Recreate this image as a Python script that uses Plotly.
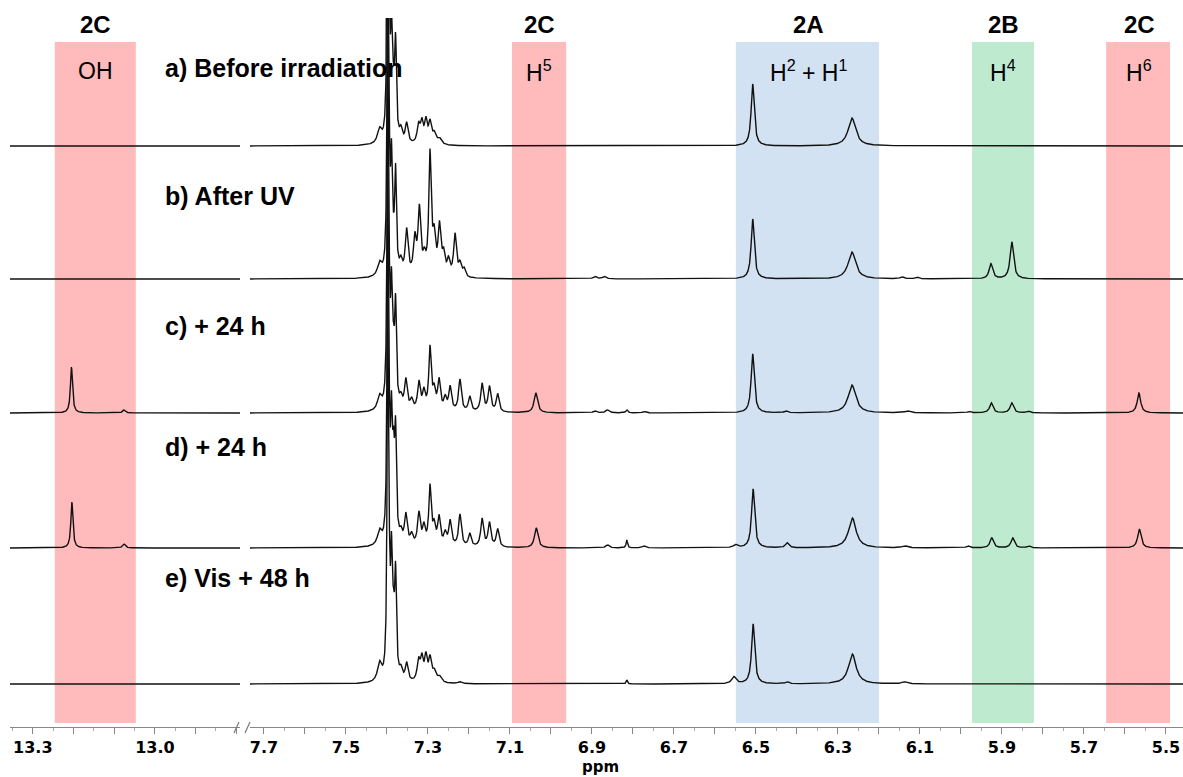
import numpy as np
import plotly.graph_objects as go

W, H = 1183, 777
PLOT_TOP, PLOT_BOTTOM = 18, 727          # pixel rows of the plot area
PLOT_H = PLOT_BOTTOM - PLOT_TOP

# ---------------- data ----------------
spectrum_labels = ["a) Before irradiation", "b) After UV", "c) + 24 h", "d) + 24 h", "e) Vis + 48 h"]

# Each spectrum: peak positions (ppm), apparent heights, half-widths (ppm)
a_ppm = [7.418, 7.398, 7.394, 7.389, 7.384, 7.379, 7.366, 7.352, 7.323, 7.315, 7.305, 7.295, 7.285, 7.272,
         6.508, 6.266]
a_height = [14, 400, 60, 100, 35, 92, 12, 20, 18, 20, 22, 20, 10, 6,
            62, 28]
a_hw = [0.006, 0.0018, 0.002, 0.0025, 0.003, 0.0025, 0.004, 0.004, 0.004, 0.004, 0.004, 0.004, 0.005, 0.006,
        0.0045, 0.011]

b_ppm = [7.418, 7.398, 7.394, 7.389, 7.384, 7.379, 7.366, 7.352, 7.332, 7.321, 7.309, 7.295, 7.285, 7.272,
         7.262, 7.250, 7.234, 7.222, 7.212,
         6.893, 6.870, 6.508, 6.266, 6.144, 6.107, 5.927, 5.876]
b_height = [13, 400, 60, 105, 15, 98, 12, 45, 35, 65, 15, 120, 35, 48,
            20, 15, 42, 12, 8,
            2.5, 2.5, 60, 27, 2, 2, 15, 37]
b_hw = [0.006, 0.0018, 0.002, 0.0025, 0.003, 0.0025, 0.004, 0.004, 0.004, 0.004, 0.004, 0.0035, 0.004, 0.004,
        0.004, 0.004, 0.004, 0.004, 0.004,
        0.005, 0.005, 0.0045, 0.011, 0.005, 0.005, 0.005, 0.005]

c_ppm = [13.205, 13.076,
         7.418, 7.398, 7.394, 7.389, 7.384, 7.379, 7.366, 7.354, 7.340, 7.322, 7.310, 7.295, 7.285, 7.273,
         7.258, 7.246, 7.222, 7.198, 7.168, 7.150, 7.130,
         7.037, 6.893, 6.862, 6.815, 6.772, 6.508, 6.427, 6.266, 6.130, 5.980, 5.926, 5.876, 5.836, 5.566]
c_height = [46, 3,
            14, 400, 60, 105, 40, 96, 10, 30, 10, 28, 18, 62, 18, 30,
            12, 24, 32, 15, 28, 25, 18,
            20, 2, 3, 3, 1.5, 59, 2, 28, 2, 1.5, 10, 10, 2, 20]
c_hw = [0.003, 0.004,
        0.006, 0.0018, 0.002, 0.0025, 0.003, 0.0025, 0.004, 0.004, 0.004, 0.004, 0.004, 0.0035, 0.004, 0.004,
        0.004, 0.004, 0.004, 0.004, 0.004, 0.004, 0.004,
        0.005, 0.005, 0.005, 0.003, 0.005, 0.0045, 0.005, 0.011, 0.008, 0.005, 0.005, 0.005, 0.005, 0.005]

d_ppm = [13.204, 13.076,
         7.418, 7.398, 7.394, 7.389, 7.384, 7.379, 7.366, 7.354, 7.340, 7.322, 7.310, 7.295, 7.285, 7.273,
         7.258, 7.246, 7.222, 7.198, 7.168, 7.150, 7.130,
         7.036, 6.862, 6.815, 6.773, 6.550, 6.507, 6.424, 6.265, 6.137, 5.983, 5.925, 5.874, 5.835, 5.565]
d_height = [46, 4,
            14, 400, 60, 108, 70, 100, 10, 30, 10, 32, 18, 58, 18, 28,
            12, 25, 32, 13, 28, 24, 18,
            20, 3, 8, 2, 3, 59, 5, 30, 2, 2, 10, 10, 2, 19]
d_hw = [0.003, 0.004,
        0.006, 0.0018, 0.002, 0.0025, 0.003, 0.0025, 0.004, 0.004, 0.004, 0.004, 0.004, 0.0035, 0.004, 0.004,
        0.004, 0.004, 0.004, 0.004, 0.004, 0.004, 0.004,
        0.005, 0.005, 0.002, 0.005, 0.006, 0.0045, 0.005, 0.011, 0.008, 0.005, 0.005, 0.005, 0.005, 0.005]

e_ppm = [7.418, 7.398, 7.394, 7.389, 7.384, 7.379, 7.366, 7.352, 7.323, 7.315, 7.305, 7.295, 7.285, 7.272,
         7.222, 6.815, 6.554, 6.507, 6.424, 6.265, 6.137]
e_height = [18, 400, 60, 110, 45, 98, 10, 18, 20, 22, 24, 22, 10, 6,
            2, 4, 7, 60, 2, 30, 2]
e_hw = [0.006, 0.0018, 0.002, 0.0025, 0.003, 0.0025, 0.004, 0.004, 0.004, 0.004, 0.004, 0.004, 0.005, 0.006,
        0.005, 0.002, 0.006, 0.0045, 0.005, 0.011, 0.008]

spectra = [(a_ppm, a_height, a_hw), (b_ppm, b_height, b_hw), (c_ppm, c_height, c_hw),
           (d_ppm, d_height, d_hw), (e_ppm, e_height, e_hw)]

# highlighted regions
band_axis = ["x", "x2", "x2", "x2", "x2"]
band_from = [13.246, 7.095, 6.549, 5.973, 5.646]
band_to = [13.047, 6.963, 6.200, 5.822, 5.490]
band_group = ["2C", "2C", "2A", "2B", "2C"]
band_proton = ["OH", "H<sup>5</sup>", "H<sup>2</sup> + H<sup>1</sup>", "H<sup>4</sup>", "H<sup>6</sup>"]
band_colour = ["#FFBBBB", "#FFBBBB", "#D2E2F2", "#BEEBD0", "#FFBBBB"]

left_ticks = [13.3, 13.2, 13.1, 13.0, 12.9, 12.8]
left_ticktext = ["13.3", "", "", "13.0", "", ""]
right_ticks = [7.7, 7.6, 7.5, 7.4, 7.3, 7.2, 7.1, 7.0, 6.9, 6.8, 6.7, 6.6, 6.5, 6.4, 6.3, 6.2, 6.1, 6.0,
               5.9, 5.8, 5.7, 5.6, 5.5]
right_ticktext = ["7.7", "", "7.5", "", "7.3", "", "7.1", "", "6.9", "", "6.7", "", "6.5", "", "6.3", "",
                  "6.1", "", "5.9", "", "5.7", "", "5.5"]

# ---------------- layout helpers ----------------
LEFT_RANGE = [13.356, 12.791]
RIGHT_RANGE = [7.734, 5.4585]
LEFT_DOMAIN = [10 / W, 240 / W]
RIGHT_DOMAIN = [250 / W, 1.0]


def px(xp):
    return xp / W


def py(yp):
    return (PLOT_BOTTOM - yp) / PLOT_H


def lorentz_sum(x, centres, heights, hws):
    y = np.zeros_like(x)
    for c, h, w in zip(centres, heights, hws):
        y += h / (1.0 + ((x - c) / w) ** 2)
    return y


x_left = np.linspace(LEFT_RANGE[0], LEFT_RANGE[1], 2000)
x_right = np.linspace(RIGHT_RANGE[0], RIGHT_RANGE[1], 7000)

baseline_px = [146, 279, 413, 548, 684]

fig = go.Figure()

for i, (pp, hh, ww) in enumerate(spectra):
    off = PLOT_BOTTOM - baseline_px[i]
    fig.add_trace(go.Scatter(x=x_left, y=off + lorentz_sum(x_left, pp, hh, ww), mode="lines",
                             line=dict(color="#111111", width=1.4), xaxis="x", yaxis="y",
                             showlegend=False, hoverinfo="skip"))
    fig.add_trace(go.Scatter(x=x_right, y=off + lorentz_sum(x_right, pp, hh, ww), mode="lines",
                             line=dict(color="#111111", width=1.4), xaxis="x2", yaxis="y",
                             showlegend=False, hoverinfo="skip"))

shapes = []
for ax, f, t, col in zip(band_axis, band_from, band_to, band_colour):
    shapes.append(dict(type="rect", xref=ax, yref="paper", x0=f, x1=t, y0=py(723), y1=py(42),
                       fillcolor=col, line=dict(width=0), layer="below"))
# axis break marks
for xb in (236, 247):
    shapes.append(dict(type="line", xref="paper", yref="paper", x0=px(xb - 2), y0=py(733),
                       x1=px(xb + 3), y1=py(722), line=dict(color="#777777", width=1.2)))

annotations = []
band_centre_px = [95, 539, 808, 1003, 1139]
for cx, g, p in zip(band_centre_px, band_group, band_proton):
    annotations.append(dict(x=px(cx), y=py(25), xref="paper", yref="paper", text="<b>" + g + "</b>",
                            showarrow=False, xanchor="center", yanchor="middle",
                            font=dict(family="Liberation Sans", size=24, color="black")))
    annotations.append(dict(x=px(cx), y=py(71), xref="paper", yref="paper", text=p,
                            showarrow=False, xanchor="center", yanchor="middle",
                            font=dict(family="Liberation Sans", size=23, color="black")))

label_y_px = [68, 196, 326, 447, 578]
for lab, ly in zip(spectrum_labels, label_y_px):
    annotations.append(dict(x=px(163), y=py(ly), xref="paper", yref="paper", text="<b>" + lab + "</b>",
                            showarrow=False, xanchor="left", yanchor="middle",
                            font=dict(family="Liberation Sans", size=25, color="black")))

annotations.append(dict(x=px(600), y=py(767), xref="paper", yref="paper", text="<b>ppm</b>",
                        showarrow=False, xanchor="center", yanchor="middle",
                        font=dict(family="DejaVu Sans", size=15, color="black")))

axis_common = dict(showline=True, linecolor="#888888", linewidth=1, ticks="outside", ticklen=6,
                   tickcolor="#888888", tickwidth=1, showgrid=False, zeroline=False, anchor="y",
                   tickfont=dict(family="DejaVu Sans", size=16, color="black"),
                   minor=dict(dtick=0.05, ticks="outside", ticklen=3, tickcolor="#aaaaaa", showgrid=False))

fig.update_layout(
    width=W, height=H,
    paper_bgcolor="white", plot_bgcolor="white",
    margin=dict(l=0, r=0, t=PLOT_TOP, b=H - PLOT_BOTTOM),
    xaxis=dict(domain=LEFT_DOMAIN, range=LEFT_RANGE, tickvals=left_ticks,
               ticktext=["<b>" + t + "</b>" if t else "" for t in left_ticktext], **axis_common),
    xaxis2=dict(domain=RIGHT_DOMAIN, range=RIGHT_RANGE, tickvals=right_ticks,
                ticktext=["<b>" + t + "</b>" if t else "" for t in right_ticktext], **axis_common),
    yaxis=dict(domain=[0, 1], range=[0, PLOT_H], visible=False, fixedrange=True),
    shapes=shapes,
    annotations=annotations,
    showlegend=False,
)

fig.write_html("out.html", config={"displayModeBar": False},
               post_script="document.body.style.margin='0px';document.body.style.overflow='hidden';")
